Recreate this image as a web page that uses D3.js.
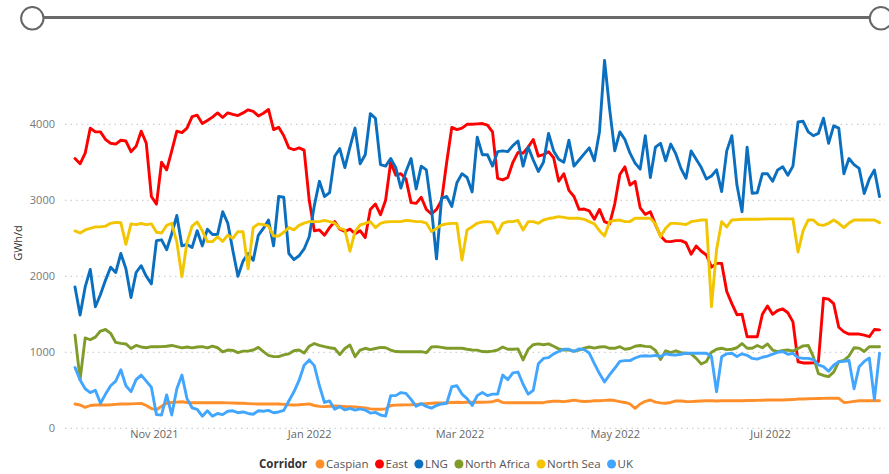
<!DOCTYPE html>
<html>
<head>
<meta charset="utf-8">
<script src="https://cdn.jsdelivr.net/npm/d3@7"></script>
<style>
  html, body { margin: 0; padding: 0; background: #fff; }
  svg { display: block; font-family: "Segoe UI", "Open Sans", "Noto Sans", sans-serif; }
</style>
</head>
<body>
<svg id="chart" width="889" height="474"></svg>
<script>
// ---- Data (2-day steps starting 1 Oct 2021) ----
const startDate = new Date(2021, 9, 1);
const stepDays = 2;
const seriesNames = ["Caspian", "East", "LNG", "North Africa", "North Sea", "UK"];
const seriesColors = ["#FF8F2A", "#FF0000", "#0B6FBF", "#7F9C2B", "#F2C500", "#42A6FF"];
const yTicks = [0, 1000, 2000, 3000, 4000];
const yLabel = "GWh/d";
const legendTitle = "Corridor";

const caspian = [320,307,276,300,307,307,307,310,315,320,
 320,322,325,328,300,260,245,290,330,340,
 345,350,340,337,337,337,337,337,337,337,
 335,333,330,329,325,322,320,320,320,320,
 320,315,310,307,310,315,320,300,288,285,
 290,294,290,286,285,280,276,268,255,250,
 250,255,300,305,307,308,310,315,320,325,
 330,332,335,337,340,342,340,342,342,342,
 342,345,350,370,340,337,337,337,337,337,
 337,337,337,350,358,355,351,360,370,360,
 352,355,362,363,368,373,365,351,340,320,
 263,320,355,372,345,335,329,340,360,360,
 352,351,355,360,363,363,360,362,363,362,
 363,363,365,365,368,370,372,373,373,373,
 375,378,386,386,388,390,392,394,395,395,
 395,340,345,355,362,363,363,363,363];

const east = [3550,3480,3620,3950,3900,3900,3800,3750,3740,3790,
 3780,3640,3710,3910,3750,3050,2950,3500,3400,3650,
 3910,3890,3950,4100,4120,4010,4050,4095,4150,4090,
 4150,4130,4115,4150,4190,4170,4110,4145,4195,3930,
 3960,3850,3690,3665,3690,3660,3000,2600,2610,2540,
 2640,2720,2620,2590,2620,2560,2600,2510,2880,2950,
 2810,3000,3500,3330,3350,3280,2970,2960,3040,2880,
 2820,2880,3000,3500,3960,3930,3950,4000,4000,4005,
 4010,3990,3900,3290,3268,3300,3500,3630,3620,3700,
 3800,3580,3600,3640,3560,3250,3350,3130,3050,2880,
 2885,2860,2750,2880,2720,2690,2950,3340,3440,3200,
 3250,2900,2815,2850,2680,2530,2460,2456,2470,2470,
 2440,2290,2400,2330,2280,2120,2170,2170,1800,1640,
 1495,1500,1205,1205,1205,1500,1610,1500,1550,1570,
 1520,1400,876,860,860,863,876,1711,1700,1640,
 1330,1270,1240,1240,1240,1225,1205,1300,1295];

const lng = [1860,1490,1860,2090,1600,1760,1950,2120,2050,2300,
 2100,1720,2050,2140,2000,1900,2470,2480,2350,2560,
 2800,2400,2420,2380,2600,2400,2620,2550,2550,2850,
 2700,2340,2000,2200,2300,2210,2540,2630,2740,2400,
 3050,3040,2300,2220,2270,2360,2520,2930,3250,3050,
 3100,3580,3680,3430,3700,3950,3480,3600,4140,4080,
 3470,3450,3550,3430,3160,3380,3550,3150,3450,3400,
 2900,2230,3030,3050,2920,3230,3350,3300,3110,3830,
 3600,3600,3450,3640,3650,3640,3720,3780,3450,3700,
 3530,3380,3500,3880,3650,3540,3500,3790,3450,3530,
 3610,3690,3520,3900,4840,4200,3650,3900,3800,3620,
 3490,3410,3850,3300,3700,3750,3520,3740,3610,3420,
 3290,3650,3540,3430,3280,3320,3400,3114,3650,3850,
 3200,2850,3700,3092,3100,3350,3350,3250,3400,3440,
 3330,3450,4030,4040,3900,3850,3880,4080,3750,3980,
 3950,3350,3550,3470,3420,3090,3280,3400,3050];

const northAfrica = [1225,640,1190,1165,1200,1280,1300,1250,1130,1118,
 1110,1050,1090,1070,1060,1074,1074,1075,1080,1090,
 1074,1058,1070,1058,1070,1074,1057,1080,1060,1005,
 1030,1025,995,1015,1015,1030,1065,1008,960,943,
 943,965,980,1020,1030,990,1080,1115,1092,1074,
 1060,1050,970,1050,1096,943,1030,1053,1035,1050,
 1065,1060,1030,1010,1008,1008,1008,1008,1008,995,
 1070,1074,1065,1053,1053,1053,1053,1040,1030,1028,
 1010,1008,1015,1030,1070,1040,1040,1045,900,1040,
 1100,1110,1100,1110,1080,1045,1030,1030,1015,1030,
 1055,1070,1055,1070,1074,1053,1053,1074,1040,1050,
 1080,1090,1078,1074,1025,905,1020,995,1020,995,
 987,980,920,845,880,1000,1040,1053,1035,1040,
 1060,1115,1053,1053,1090,1060,1110,1030,1010,1025,
 1030,1015,1050,1085,1090,943,720,695,680,740,
 876,895,950,1060,1055,1010,1074,1074,1074];

const northSea = [2597,2570,2610,2630,2650,2650,2660,2697,2710,2706,
 2420,2690,2680,2695,2680,2690,2580,2570,2670,2697,
 2450,1995,2450,2660,2715,2600,2456,2456,2520,2460,
 2540,2500,2587,2587,2100,2640,2690,2680,2660,2530,
 2530,2580,2640,2610,2670,2700,2719,2719,2719,2735,
 2720,2700,2630,2610,2330,2587,2675,2697,2719,2640,
 2697,2715,2719,2719,2719,2735,2730,2719,2719,2700,
 2590,2630,2675,2690,2697,2697,2215,2610,2653,2697,
 2715,2719,2710,2566,2697,2719,2719,2735,2610,2719,
 2719,2697,2741,2760,2770,2785,2775,2763,2763,2763,
 2750,2719,2690,2600,2530,2719,2735,2740,2719,2720,
 2763,2763,2763,2763,2690,2520,2632,2697,2697,2690,
 2680,2719,2730,2741,2741,1600,2350,2719,2650,2741,
 2745,2750,2750,2750,2750,2752,2755,2755,2755,2755,
 2755,2755,2320,2600,2741,2741,2680,2670,2697,2741,
 2697,2640,2700,2741,2741,2741,2741,2740,2706];

const uk = [800,636,520,470,500,330,450,560,620,770,
 560,482,640,700,620,540,180,175,440,175,
 520,700,390,270,250,160,230,160,195,180,
 225,230,205,215,195,185,230,225,235,205,
 215,236,360,480,630,830,900,825,560,340,
 360,250,285,242,263,240,255,240,200,210,
 175,160,430,430,470,460,380,290,325,288,
 265,300,320,330,547,560,450,390,300,430,
 470,430,450,450,700,640,730,740,580,450,
 500,850,920,930,980,1010,1040,1040,1010,1045,
 1035,990,850,720,610,705,790,880,890,890,
 925,950,955,950,960,945,980,968,965,975,
 987,987,987,987,987,945,482,940,980,987,
 945,980,960,920,910,935,950,975,1000,1010,
 975,985,930,920,920,905,833,811,750,830,
 876,880,895,520,811,880,925,380,987];

const seriesValues = [caspian, east, lng, northAfrica, northSea, uk];

// ---- Build ----
const svg = d3.select("#chart");
svg.append("rect").attr("width", 889).attr("height", 474).attr("fill", "#fff");

const nPts = d3.max(seriesValues, s => s.length);
const dates = d3.range(nPts).map(i => d3.timeDay.offset(startDate, i * stepDays));

const x = d3.scaleTime()
  .domain([dates[0], dates[dates.length - 1]])
  .range([75, 879.5]);
const y = d3.scaleLinear().domain([0, 4000]).range([428.3, 124.3]);

// slider at top
const slider = svg.append("g");
slider.append("line").attr("x1", 43).attr("x2", 870).attr("y1", 17.5).attr("y2", 17.5)
  .attr("stroke", "#6a6a6a").attr("stroke-width", 3.2);
[32.3, 881].forEach(cx => {
  slider.append("circle").attr("cx", cx).attr("cy", 18.3).attr("r", 11.2)
    .attr("fill", "#fff").attr("stroke", "#666").attr("stroke-width", 2);
});

// gridlines
svg.append("g").selectAll("line").data(yTicks).join("line")
  .attr("x1", 65).attr("x2", 885)
  .attr("y1", d => y(d)).attr("y2", d => y(d))
  .attr("stroke", "#c4c4c4").attr("stroke-width", 1)
  .attr("stroke-dasharray", "1.5,4");

// y axis
const yAxis = d3.axisLeft(y).tickValues(yTicks).tickSize(0).tickPadding(0).tickFormat(d3.format("d"));
const yg = svg.append("g").attr("transform", "translate(55,0)").call(yAxis);
yg.select(".domain").remove();
yg.selectAll("text").attr("fill", "#777").attr("font-size", "11px")
  .style("font-family", '"Segoe UI", "Open Sans", sans-serif');

svg.append("text")
  .attr("transform", "translate(21.5,243) rotate(-90)")
  .attr("text-anchor", "middle")
  .attr("fill", "#333").attr("font-size", "11px")
  .text(yLabel);

// x axis
const xAxis = d3.axisBottom(x).ticks(d3.timeMonth.every(2)).tickSize(0).tickPadding(0)
  .tickFormat(d3.timeFormat("%b %Y"));
const xg = svg.append("g").attr("transform", "translate(0,430)").call(xAxis);
xg.select(".domain").remove();
xg.selectAll("text").attr("fill", "#666").attr("font-size", "11px").attr("dy", "0.75em")
  .style("font-family", '"Segoe UI", "Open Sans", sans-serif');

// lines
const line = d3.line()
  .x((d, i) => x(dates[i]))
  .y(d => y(d))
  .curve(d3.curveLinear);

svg.append("g").selectAll("path").data(seriesValues).join("path")
  .attr("d", d => line(d))
  .attr("fill", "none")
  .attr("stroke", (d, i) => seriesColors[i])
  .attr("stroke-width", 2.9)
  .attr("stroke-linejoin", "round")
  .attr("stroke-linecap", "round");

// legend
const lg = svg.append("g");
let lx = 259;
const ly = 468;
const title = lg.append("text").attr("x", lx).attr("y", ly)
  .attr("font-size", "11.5px").attr("font-weight", "bold").attr("fill", "#333").text(legendTitle);
lx += title.node().getComputedTextLength() + 13;
seriesNames.forEach((name, i) => {
  lg.append("circle").attr("cx", lx).attr("cy", ly - 4).attr("r", 4.5).attr("fill", seriesColors[i]);
  const t = lg.append("text").attr("x", lx + 6).attr("y", ly)
    .attr("font-size", "11.5px").attr("fill", "#555").text(name);
  lx += 6 + t.node().getComputedTextLength() + 11;
});
</script>
</body>
</html>
